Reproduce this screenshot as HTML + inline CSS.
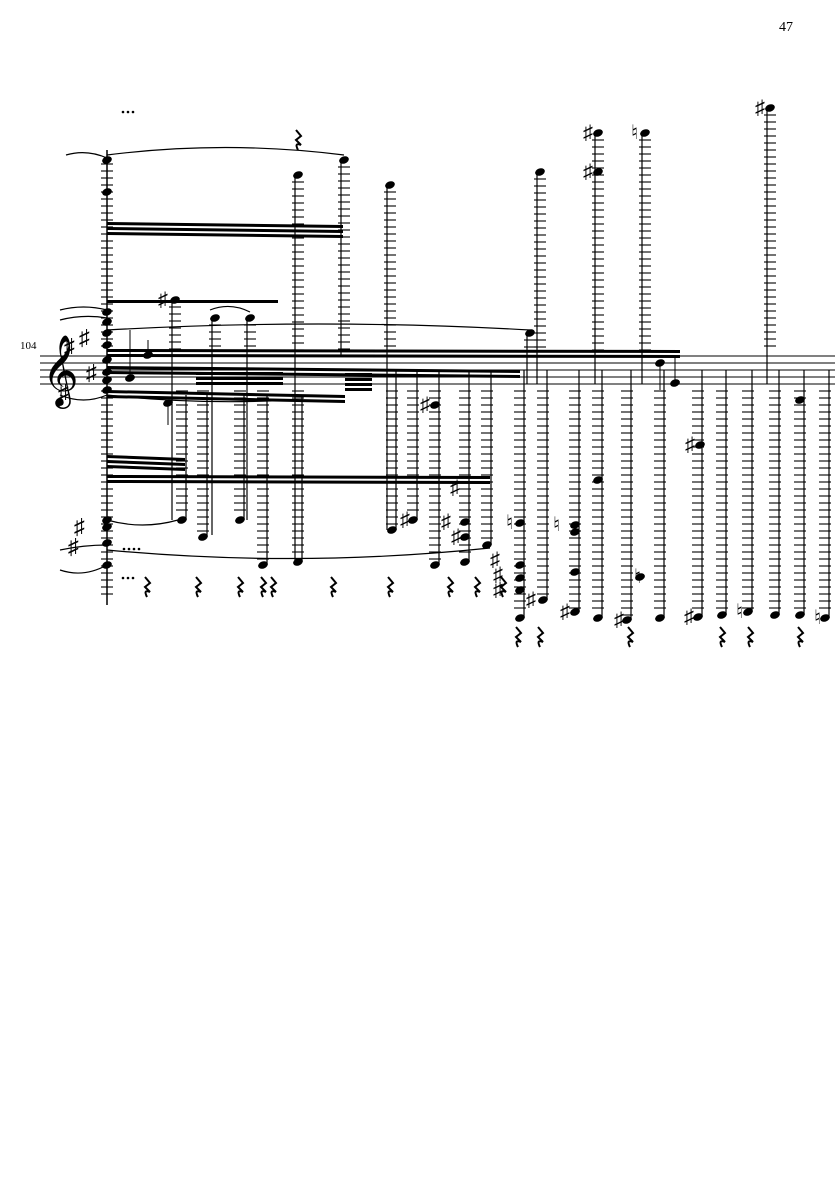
<!DOCTYPE html>
<html><head><meta charset="utf-8"><style>
html,body{margin:0;padding:0;background:#fff;}
svg{display:block}
text{font-family:"Liberation Serif",serif;}
</style></head><body>
<svg id="s" width="835" height="1181" viewBox="0 0 835 1181" xmlns="http://www.w3.org/2000/svg">
<rect width="835" height="1181" fill="#fff"/>
<text x="779" y="31" font-size="14">47</text>
<text x="20" y="349" font-size="11">104</text>
<g stroke="#000" stroke-width="1">
<line x1="40" y1="356" x2="835" y2="356"/>
<line x1="40" y1="363" x2="835" y2="363"/>
<line x1="40" y1="370" x2="835" y2="370"/>
<line x1="40" y1="377" x2="835" y2="377"/>
<line x1="40" y1="384" x2="835" y2="384"/>
</g>
<text x="42" y="391" font-size="62" font-family="DejaVu Sans,serif">𝄞</text>
<text x="64" y="354" font-size="22" font-family="DejaVu Sans">♯</text>
<text x="79" y="345" font-size="22" font-family="DejaVu Sans">♯</text>
<text x="86" y="380" font-size="22" font-family="DejaVu Sans">♯</text>
<text x="58" y="400" font-size="22" font-family="DejaVu Sans">♯</text>
<text x="74" y="534" font-size="22" font-family="DejaVu Sans">♯</text>
<text x="68" y="554" font-size="22" font-family="DejaVu Sans">♯</text>
<g id="g" fill="#000" stroke="#000"></g>
</svg>
<script>
var g=document.getElementById('g'),NS='http://www.w3.org/2000/svg';
function el(t,a){var e=document.createElementNS(NS,t);for(var k in a)e.setAttribute(k,a[k]);g.appendChild(e);return e;}
function ln(x1,y1,x2,y2,w){el('line',{x1:x1,y1:y1,x2:x2,y2:y2,'stroke-width':w||1});}
function led(x,y1,y2){for(var y=y1;y<=y2;y+=7)ln(x-6,y,x+6,y,1.1);}
function head(x,y){el('ellipse',{cx:x,cy:y,rx:5,ry:3.6,transform:'rotate(-20 '+x+' '+y+')',stroke:'none'});}
function acc(x,y,c){var t=el('text',{x:x-2,y:y+6,'font-size':20,'font-family':'DejaVu Sans',stroke:'none'});t.textContent=c||'♯';}
function rest(x,y){el('path',{d:'M'+(x-2)+' '+(y-8)+' L'+(x+3)+' '+(y-2)+' L'+(x-2)+' '+(y+2)+' L'+(x+3)+' '+(y+7)+' Q'+(x-4)+' '+(y+4)+' '+(x)+' '+(y+12),fill:'none','stroke-width':2});}
function beam(x1,y1,x2,y2,n){for(var i=0;i<n;i++)el('polygon',{points:x1+','+(y1+i*5)+' '+x2+','+(y2+i*5)+' '+x2+','+(y2+i*5+3)+' '+x1+','+(y1+i*5+3),stroke:'none'});}
function arc(x1,y1,x2,y2,h){el('path',{d:'M'+x1+' '+y1+' Q'+((x1+x2)/2)+' '+(y1+h)+' '+x2+' '+y2,fill:'none','stroke-width':1.2});}
ln(107,150,107,605,1.5);led(107,164,350);led(107,391,598);
[[107,160],[107,192],[107,312],[107,322],[107,333],[107,345],[107,360],[107,372],[107,380],[107,390],[107,520],[107,527],[107,543],[107,565]].forEach(function(p){head(p[0],p[1]);});
var up=[[298,175,565],[344,160,355],[390,185,530],[540,172,384],[598,133,384],[645,133,384],[770,108,384],[175,300,520],[215,318,535],[250,318,520],[530,333,384]];
up.forEach(function(s){ln(s[0]-3,s[1],s[0]-3,s[2],1.2);led(s[0],s[1]+7,352);head(s[0],s[1]);});
head(598,172);acc(585,133);acc(585,172);acc(633,133,'♮');acc(757,108);acc(160,300);
var lo=[[182,520,395],[203,537,395],[240,520,395],[263,565,395],[298,562,395],[392,530,370],[413,520,370],[435,565,370],[465,562,370],[487,545,370],[520,618,370],[543,600,370],[575,612,370],[598,618,370],[627,620,370],[660,618,370],[698,617,370],[722,615,370],[748,612,370],[775,615,370],[800,615,370],[825,618,370]];
lo.forEach(function(s){ln(s[0]+4,s[2],s[0]+4,s[1],1.2);led(s[0],391,s[1]-4);head(s[0],s[1]);});
[[520,565],[520,578],[520,590],[465,522],[465,537],[435,405],[700,445],[598,480],[575,572],[640,577],[800,400],[575,525],[575,532],[520,523]].forEach(function(p){head(p[0],p[1]);});
acc(402,520);acc(422,405);acc(452,488);acc(443,522);acc(453,537);acc(492,560);acc(495,575);acc(495,590);acc(528,600);acc(562,612);acc(616,620);acc(686,617);acc(687,445);acc(636,577,'♮');acc(738,612,'♮');acc(816,618,'♮');acc(508,523,'♮');acc(555,525,'♮');
[147,198,240,263,273,333,390,450,477,503].forEach(function(x){rest(x,585);});
[518,540,630,722,750,800].forEach(function(x){rest(x,635);});
rest(298,138);
beam(107,222,343,225,3);beam(107,349,680,350,2);beam(107,366,520,370,2);
beam(107,390,345,395,2);beam(107,455,185,458,3);beam(107,475,490,476,2);
beam(107,300,278,300,1);beam(196,372,283,372,3);beam(345,373,372,373,4);
[[130,378,330],[148,355,340],[168,403,425],[660,363,390],[675,383,355]].forEach(function(s){ln(s[0],s[1],s[0],s[2],1);head(s[0],s[1]);});
arc(107,155,344,155,-15);arc(66,155,107,158,-6);arc(107,520,178,520,10);arc(107,550,490,548,18);
arc(107,330,530,330,-12);arc(60,310,107,310,-6);arc(60,320,107,318,-6);arc(60,550,107,545,-5);arc(60,570,107,565,8);arc(107,395,290,400,10);
arc(60,395,107,395,10);arc(210,310,250,312,-8);
[[123,112],[128,112],[133,112],[123,578],[128,578],[133,578],[124,549],[129,549],[134,549],[139,549]].forEach(function(p){el('circle',{cx:p[0],cy:p[1],r:1.3,stroke:'none'});});
</script>
</body></html>
